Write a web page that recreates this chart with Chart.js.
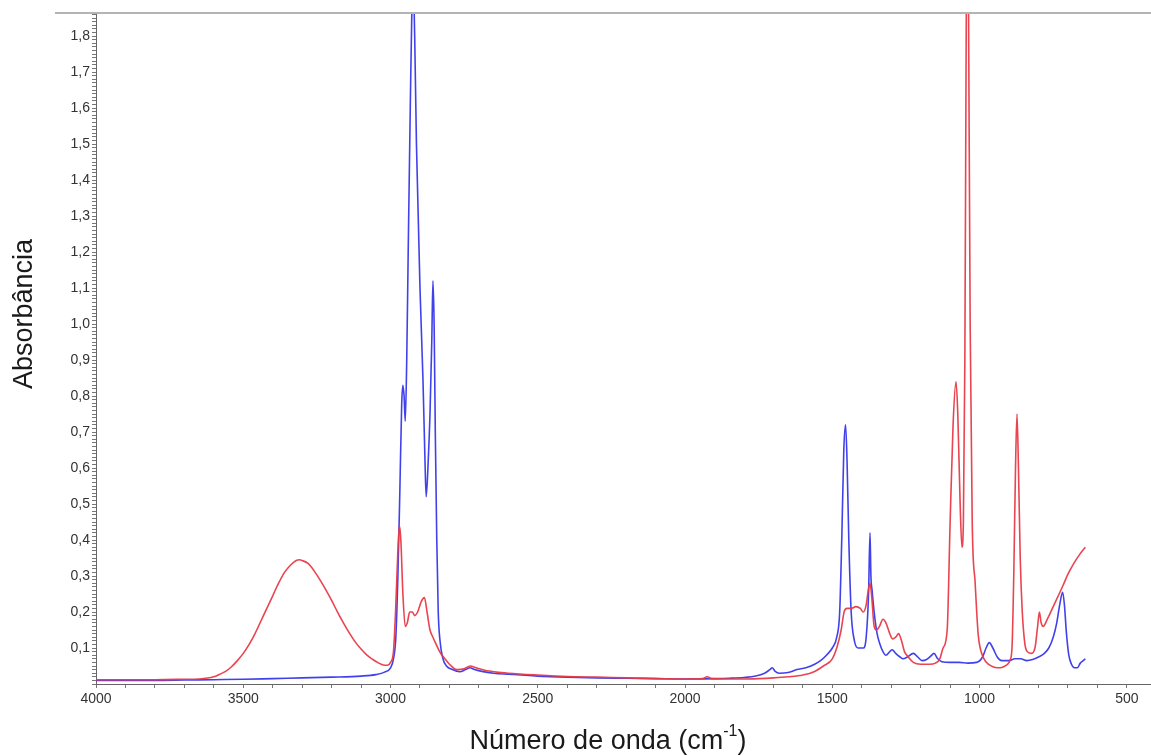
<!DOCTYPE html>
<html>
<head>
<meta charset="utf-8">
<script src="https://cdn.jsdelivr.net/npm/chart.js@4.4.1/dist/chart.umd.min.js"></script>
<style>
  html, body { margin: 0; padding: 0; background: #fff; }
</style>
</head>
<body>
<canvas id="myChart" width="1151" height="756"></canvas>
<script>
'use strict';

// wavenumbers (cm-1) and absorbance
let blueWave = [4000, 3900, 3800, 3700, 3600, 3500, 3400, 3300, 3200, 3100, 3050, 3020, 3000, 2990, 2982, 2975, 2968, 2962, 2958, 2954, 2950, 2945, 2940, 2933, 2928, 2923, 2918, 2912, 2900, 2890, 2883, 2879, 2872, 2866, 2860, 2856, 2852, 2848, 2843, 2838, 2832, 2822, 2810, 2790, 2765, 2745, 2730, 2715, 2690, 2650, 2600, 2500, 2400, 2300, 2200, 2100, 2000, 1900, 1850, 1800, 1760, 1730, 1712, 1704, 1695, 1680, 1650, 1620, 1590, 1560, 1540, 1520, 1500, 1485, 1475, 1468, 1461, 1455, 1450, 1444, 1436, 1425, 1412, 1395, 1385, 1377, 1372, 1369, 1365, 1358, 1348, 1338, 1328, 1318, 1305, 1297, 1285, 1270, 1260, 1245, 1225, 1210, 1195, 1180, 1165, 1155, 1142, 1128, 1100, 1070, 1040, 1010, 990, 978, 967, 955, 940, 925, 900, 880, 860, 840, 820, 800, 780, 765, 750, 738, 728, 718, 712, 705, 697, 688, 678, 668, 658, 648, 641];
let blueAbs = [0.010, 0.010, 0.010, 0.011, 0.012, 0.013, 0.015, 0.017, 0.019, 0.022, 0.026, 0.033, 0.045, 0.07, 0.13, 0.3, 0.55, 0.78, 0.83, 0.8, 0.73, 0.9, 1.2, 1.6, 1.85, 1.95, 1.8, 1.5, 1.1, 0.85, 0.62, 0.52, 0.62, 0.75, 0.95, 1.12, 1.0, 0.7, 0.4, 0.2, 0.12, 0.07, 0.05, 0.04, 0.034, 0.04, 0.045, 0.04, 0.035, 0.03, 0.027, 0.022, 0.019, 0.017, 0.016, 0.015, 0.014, 0.015, 0.016, 0.018, 0.022, 0.03, 0.04, 0.045, 0.036, 0.03, 0.032, 0.04, 0.045, 0.055, 0.065, 0.08, 0.1, 0.13, 0.2, 0.4, 0.65, 0.72, 0.62, 0.4, 0.2, 0.12, 0.1, 0.1, 0.13, 0.25, 0.42, 0.3, 0.26, 0.2, 0.14, 0.11, 0.09, 0.08, 0.09, 0.095, 0.085, 0.075, 0.07, 0.075, 0.085, 0.075, 0.065, 0.068, 0.078, 0.085, 0.07, 0.062, 0.06, 0.06, 0.058, 0.06, 0.075, 0.1, 0.115, 0.1, 0.075, 0.065, 0.065, 0.07, 0.07, 0.065, 0.068, 0.075, 0.085, 0.1, 0.13, 0.17, 0.22, 0.255, 0.22, 0.14, 0.08, 0.055, 0.045, 0.045, 0.058, 0.065, 0.07];

let redWave = [4000, 3900, 3800, 3700, 3650, 3600, 3580, 3560, 3540, 3520, 3500, 3480, 3460, 3440, 3420, 3400, 3380, 3360, 3340, 3320, 3310, 3300, 3280, 3260, 3240, 3220, 3200, 3180, 3160, 3140, 3120, 3100, 3080, 3060, 3040, 3025, 3010, 3000, 2990, 2983, 2976, 2970, 2965, 2958, 2950, 2943, 2935, 2926, 2918, 2908, 2895, 2885, 2876, 2866, 2856, 2845, 2830, 2820, 2800, 2775, 2750, 2730, 2710, 2680, 2640, 2600, 2500, 2400, 2300, 2200, 2100, 2000, 1940, 1925, 1910, 1850, 1800, 1750, 1700, 1650, 1600, 1560, 1530, 1500, 1485, 1470, 1460, 1450, 1435, 1420, 1405, 1395, 1385, 1378, 1372, 1366, 1358, 1350, 1340, 1328, 1318, 1305, 1295, 1285, 1275, 1265, 1255, 1242, 1225, 1200, 1170, 1150, 1135, 1124, 1110, 1100, 1090, 1080, 1074, 1066, 1060, 1055, 1050, 1046, 1041, 1037, 1032, 1025, 1015, 1005, 998, 985, 970, 955, 940, 930, 918, 905, 897, 890, 884, 878, 873, 868, 862, 855, 846, 838, 825, 812, 803, 797, 791, 784, 770, 750, 730, 716, 700, 680, 660, 641];
let redAbs = [0.012, 0.012, 0.012, 0.013, 0.014, 0.02, 0.027, 0.035, 0.048, 0.065, 0.085, 0.11, 0.14, 0.175, 0.21, 0.245, 0.28, 0.31, 0.33, 0.343, 0.345, 0.343, 0.335, 0.315, 0.29, 0.262, 0.232, 0.2, 0.17, 0.142, 0.117, 0.097, 0.08, 0.068, 0.058, 0.053, 0.052, 0.06, 0.09, 0.2, 0.35, 0.44, 0.4, 0.25, 0.16, 0.17, 0.2, 0.2, 0.19, 0.2, 0.23, 0.24, 0.2, 0.15, 0.13, 0.11, 0.085, 0.075, 0.055, 0.04, 0.042, 0.05, 0.045, 0.038, 0.033, 0.03, 0.025, 0.021, 0.019, 0.017, 0.015, 0.014, 0.015, 0.02, 0.015, 0.014, 0.014, 0.015, 0.017, 0.02, 0.025, 0.035, 0.05, 0.07, 0.1, 0.15, 0.2, 0.21, 0.21, 0.215, 0.21, 0.2, 0.22, 0.26, 0.28, 0.24, 0.16, 0.15, 0.16, 0.18, 0.17, 0.14, 0.125, 0.13, 0.14, 0.12, 0.09, 0.075, 0.06, 0.055, 0.055, 0.058, 0.07, 0.1, 0.15, 0.45, 0.72, 0.84, 0.75, 0.5, 0.38, 0.45, 0.9, 1.7, 2.4, 1.8, 1.0, 0.45, 0.28, 0.14, 0.1, 0.07, 0.055, 0.048, 0.045, 0.045, 0.048, 0.055, 0.065, 0.1, 0.3, 0.6, 0.75, 0.6, 0.35, 0.2, 0.11, 0.09, 0.085, 0.1, 0.16, 0.2, 0.17, 0.16, 0.18, 0.215, 0.25, 0.275, 0.305, 0.335, 0.36, 0.38];

let xTickLabels = [4000, 3500, 3000, 2500, 2000, 1500, 1000, 500];
let yTickLabels = ['0,1', '0,2', '0,3', '0,4', '0,5', '0,6', '0,7', '0,8', '0,9', '1,0', '1,1', '1,2', '1,3', '1,4', '1,5', '1,6', '1,7', '1,8'];

let xTitle = 'Número de onda (cm';
let xTitleSup = '-1';
let yTitle = 'Absorbância';

function toPoints(xs, ys) {
  let pts = [];
  for (let i = 0; i < xs.length; i++) {
    pts.push({ x: xs[i], y: ys[i] });
  }
  return pts;
}

// axis titles and the grey top rule
const frame = {
  id: 'frame',
  afterDraw(chart) {
    let ctx = chart.ctx;
    let area = chart.chartArea;
    let big = '27px "Liberation Sans", Arial, sans-serif';
    let small = '16px "Liberation Sans", Arial, sans-serif';
    ctx.save();
    ctx.strokeStyle = '#b4b4b4';
    ctx.lineWidth = 2;
    ctx.beginPath();
    ctx.moveTo(55, area.top);
    ctx.lineTo(chart.width, area.top);
    ctx.stroke();

    ctx.fillStyle = '#1a1a1a';
    ctx.textBaseline = 'middle';
    ctx.font = big;
    // y title
    ctx.save();
    ctx.translate(25, 314);
    ctx.rotate(-Math.PI / 2);
    ctx.textAlign = 'center';
    ctx.fillText(yTitle, 0, 0);
    ctx.restore();
    // x title with superscript
    let w1 = ctx.measureText(xTitle).width;
    ctx.font = small;
    let w2 = ctx.measureText(xTitleSup).width;
    ctx.font = big;
    let w3 = ctx.measureText(')').width;
    let x0 = 608 - (w1 + w2 + w3) / 2;
    ctx.textAlign = 'left';
    ctx.fillText(xTitle, x0, 742);
    ctx.font = small;
    ctx.fillText(xTitleSup, x0 + w1, 732);
    ctx.font = big;
    ctx.fillText(')', x0 + w1 + w2, 742);
    ctx.restore();
  }
};

let tickFont = { family: '"Liberation Sans", Arial, sans-serif', size: 14 };

let ctx = document.getElementById('myChart').getContext('2d');
let myChart = new Chart(ctx, {
  type: 'line',
  data: {
    datasets: [
      {
        label: 'vermelho',
        data: toPoints(redWave, redAbs),
        borderColor: 'rgba(232, 58, 70, 0.95)',
        borderWidth: 1.6
      },
      {
        label: 'azul',
        data: toPoints(blueWave, blueAbs),
        borderColor: 'rgba(55, 55, 235, 0.95)',
        borderWidth: 1.6
      }
    ]
  },
  options: {
    responsive: false,
    animation: false,
    devicePixelRatio: 1,
    layout: { padding: { top: 13, left: 0, right: 0, bottom: 0 } },
    elements: {
      point: { radius: 0 },
      line: { cubicInterpolationMode: 'monotone', fill: false }
    },
    plugins: {
      legend: { display: false },
      tooltip: { enabled: false }
    },
    scales: {
      x: {
        type: 'linear',
        reverse: true,
        min: 418,
        max: 4000,
        afterFit: function (scale) { scale.height = 72; },
        border: { color: '#666', width: 1 },
        grid: { drawOnChartArea: false, drawTicks: true, tickLength: 4, tickColor: '#777' },
        ticks: {
          stepSize: 100,
          includeBounds: false,
          autoSkip: false,
          maxRotation: 0,
          maxTicksLimit: 200,
          padding: 3,
          color: '#333',
          font: tickFont,
          callback: function (v) {
            return xTickLabels.includes(v) ? String(v) : '';
          }
        }
      },
      y: {
        min: 0,
        max: 1.864,
        afterFit: function (scale) { scale.width = 96; },
        border: { color: '#666', width: 1 },
        grid: { drawOnChartArea: false, drawTicks: true, tickLength: 4, tickColor: '#777' },
        ticks: {
          stepSize: 0.01,
          includeBounds: false,
          autoSkip: false,
          maxTicksLimit: 400,
          padding: 2,
          color: '#333',
          font: tickFont,
          callback: function (v) {
            let k = Math.round(v * 100);
            if (k > 0 && k % 10 === 0) {
              return yTickLabels[k / 10 - 1] || '';
            }
            return '';
          }
        }
      }
    }
  },
  plugins: [frame]
});
</script>
</body>
</html>
